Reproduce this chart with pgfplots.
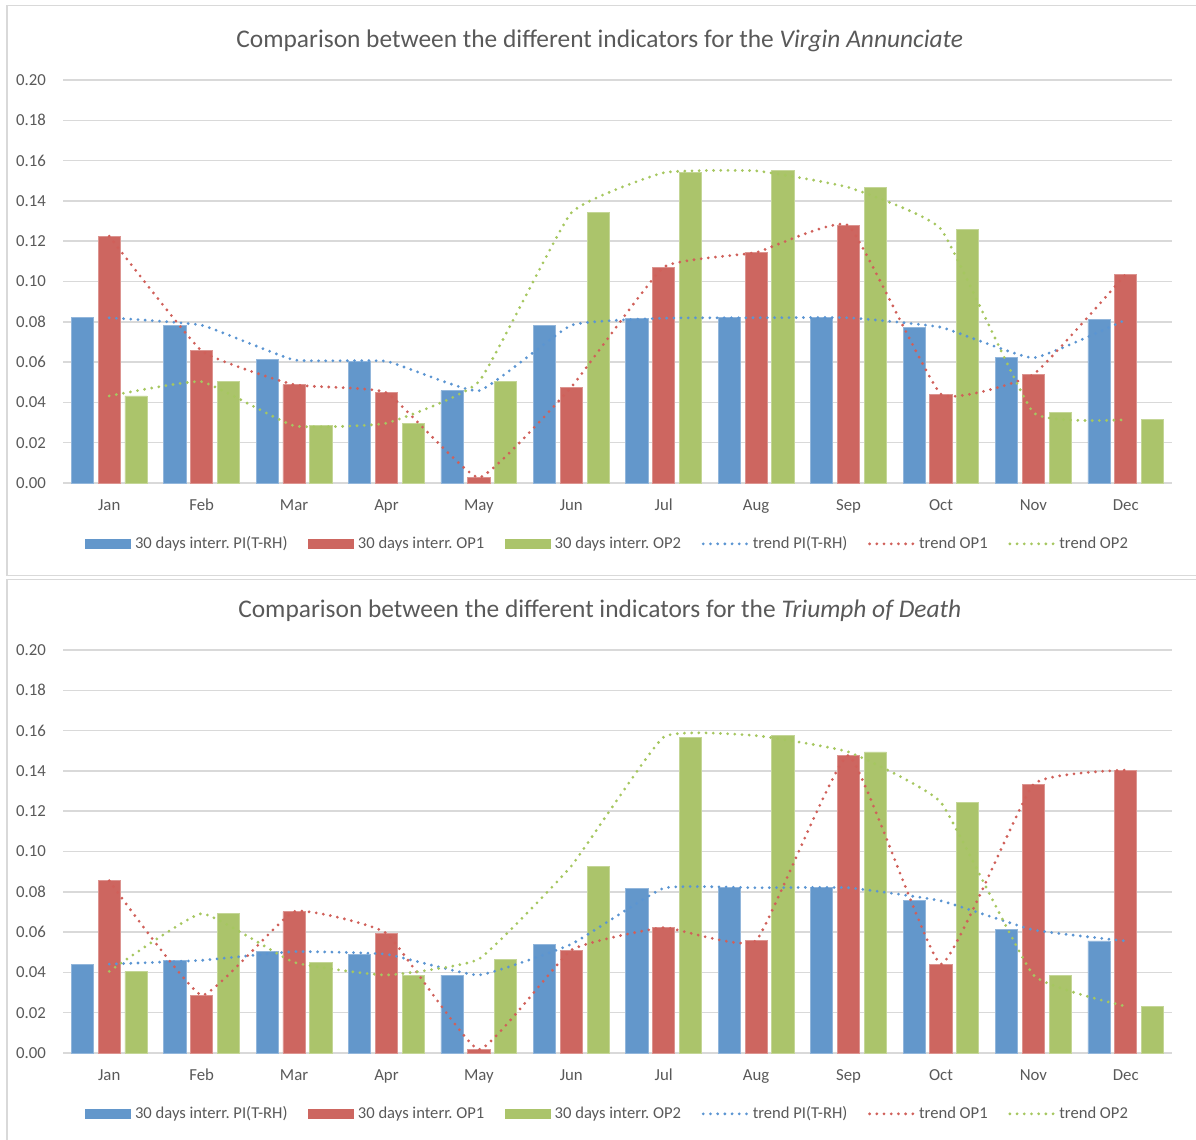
\documentclass[border=0pt]{standalone}
\usepackage{pgfplots}
\pgfplotsset{compat=1.18}
\usepackage{pgfplotstable}
\usepackage{fontspec}
\setmainfont{Carlito}
\frenchspacing

\definecolor{barblue}{HTML}{6397CB}
\definecolor{barred}{HTML}{CD6660}
\definecolor{bargreen}{HTML}{ABC46B}
\definecolor{trendblue}{HTML}{5B95D2}
\definecolor{trendred}{HTML}{D0605A}
\definecolor{trendgreen}{HTML}{A6C760}
\definecolor{gridgray}{HTML}{D9D9D9}
\definecolor{framegray}{HTML}{D9D9D9}
\definecolor{labelgray}{HTML}{595959}

% month index, PI(T-RH), OP1, OP2
\pgfplotstableread{
x pi op1 op2
0 0.0820 0.1225 0.0432
1 0.0783 0.0656 0.0503
2 0.0611 0.0488 0.0284
3 0.0604 0.0448 0.0297
4 0.0458 0.0027 0.0503
5 0.0783 0.0476 0.1341
6 0.0818 0.1071 0.1540
7 0.0820 0.1144 0.1549
8 0.0820 0.1278 0.1467
9 0.0773 0.0441 0.1260
10 0.0621 0.0539 0.0350
11 0.0810 0.1036 0.0314
}\annunciate

\pgfplotstableread{
x pi op1 op2
0 0.0441 0.0855 0.0405
1 0.0460 0.0287 0.0692
2 0.0503 0.0702 0.0450
3 0.0490 0.0594 0.0387
4 0.0387 0.0017 0.0466
5 0.0540 0.0511 0.0928
6 0.0818 0.0622 0.1568
7 0.0820 0.0558 0.1575
8 0.0820 0.1477 0.1494
9 0.0755 0.0441 0.1243
10 0.0611 0.1333 0.0387
11 0.0556 0.1404 0.0232
}\triumph

\pgfplotsset{
  indicators/.style={
    scale only axis, width=554.5pt, height=201.5pt,
    xmin=-0.5, xmax=11.5, ymin=0, ymax=0.2,
    xtick={0,...,11},
    xticklabels={Jan,Feb,Mar,Apr,May,Jun,Jul,Aug,Sep,Oct,Nov,Dec},
    ytick={0,0.02,0.04,0.06,0.08,0.10,0.12,0.14,0.16,0.18,0.20},
    ymajorgrids, grid style={draw=gridgray, line width=0.75pt},
    axis line style={draw=none}, major tick length=0pt,
    tick label style={font=\fontsize{8.4}{10}\selectfont, text=labelgray},
    xticklabel style={anchor=base, yshift=-13.5pt},
    yticklabel style={anchor=east, xshift=-5pt,
      /pgf/number format/.cd, fixed, fixed zerofill, precision=2, assume math mode=true},
    title style={at={(0.484,1)}, anchor=center, yshift=13.5pt,
      font=\fontsize{12.7}{15}\selectfont, text=labelgray},
    legend columns=6,
    legend style={at={(0.492,-0.151)}, anchor=center, draw=none, fill=none,
      font=\fontsize{8.3}{10}\selectfont, text=labelgray,
      nodes={inner xsep=2pt, inner ysep=1pt},
      /tikz/every even column/.append style={column sep=8.3pt}},
    clip=false,
  },
  pibar/.style={ybar, bar width=0.24, bar shift=0pt, fill=barblue,
    draw=barblue!70!white, line width=0.4pt,
    legend image code/.code={\fill[barblue] (0pt,-2.3pt) rectangle (22.5pt,2.3pt);}},
  opibar/.style={ybar, bar width=0.24, bar shift=0pt, fill=barred,
    draw=barred!70!white, line width=0.4pt,
    legend image code/.code={\fill[barred] (0pt,-2.3pt) rectangle (22.5pt,2.3pt);}},
  opiibar/.style={ybar, bar width=0.24, bar shift=0pt, fill=bargreen,
    draw=bargreen!70!white, line width=0.4pt,
    legend image code/.code={\fill[bargreen] (0pt,-2.3pt) rectangle (22.5pt,2.3pt);}},
  trend/.style={#1, smooth, tension=0.22, line width=1.55pt, line cap=round,
    dash pattern=on 0pt off 3.6pt,
    legend image code/.code={\draw[#1, line width=1.55pt, line cap=round,
      dash pattern=on 0pt off 3.6pt] (1pt,0pt) -- (23pt,0pt);}},
}

\begin{document}
\begin{tikzpicture}
\useasboundingbox (0,0) rectangle (598pt,-570pt);
\draw[framegray, line width=0.6pt] (3.5pt,-2.8pt) rectangle (598.6pt,-287.6pt);
\draw[framegray, line width=0.6pt] (3.5pt,-289.6pt) rectangle (598.6pt,-575pt);

\begin{axis}[indicators, at={(31.5pt,-241.5pt)}, anchor=south west,
  title={Comparison between the different indicators for the \textit{Virgin Annunciate}}]
  \addplot[pibar]   table[x expr=\thisrow{x}-0.29, y=pi]  {\annunciate};
  \addplot[opibar]  table[x=x, y=op1]                      {\annunciate};
  \addplot[opiibar] table[x expr=\thisrow{x}+0.29, y=op2] {\annunciate};
  \addplot[trend=trendblue]  table[x=x, y=pi]  {\annunciate};
  \addplot[trend=trendred]   table[x=x, y=op1] {\annunciate};
  \addplot[trend=trendgreen] table[x=x, y=op2] {\annunciate};
  \legend{30 days interr. PI(T-RH), 30 days interr. OP1, 30 days interr. OP2,
    trend PI(T-RH), trend OP1, trend OP2}
\end{axis}

\begin{axis}[indicators, at={(31.5pt,-526.5pt)}, anchor=south west,
  title={Comparison between the different indicators for the \textit{Triumph of Death}}]
  \addplot[pibar]   table[x expr=\thisrow{x}-0.29, y=pi]  {\triumph};
  \addplot[opibar]  table[x=x, y=op1]                      {\triumph};
  \addplot[opiibar] table[x expr=\thisrow{x}+0.29, y=op2] {\triumph};
  \addplot[trend=trendblue]  table[x=x, y=pi]  {\triumph};
  \addplot[trend=trendred]   table[x=x, y=op1] {\triumph};
  \addplot[trend=trendgreen] table[x=x, y=op2] {\triumph};
  \legend{30 days interr. PI(T-RH), 30 days interr. OP1, 30 days interr. OP2,
    trend PI(T-RH), trend OP1, trend OP2}
\end{axis}
\end{tikzpicture}
\end{document}
